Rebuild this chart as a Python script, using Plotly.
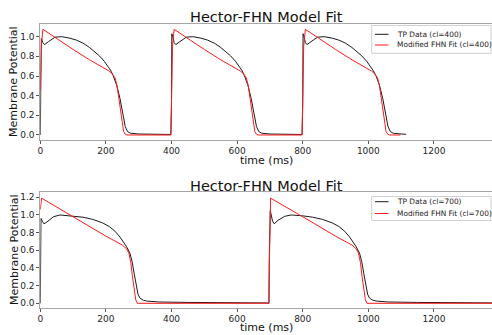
import plotly.graph_objects as go

W, H = 492, 335

# ---------------- data ----------------
# Top panel, cycle length 400 ms
t_tp400 = [0, 1, 3, 8, 13, 25, 45, 65, 90, 110, 130, 150, 165, 180, 195, 205, 214, 222, 233, 243, 251, 259, 266, 275, 300, 350, 398,
           400, 401, 404, 408, 413, 425, 445, 465, 490, 510, 530, 550, 565, 580, 595, 605, 614, 622, 633, 643, 651, 659, 666, 675, 700, 750, 798,
           800, 801, 804, 808, 813, 825, 845, 865, 890, 910, 930, 950, 965, 980, 995, 1005, 1014, 1023, 1034, 1044, 1052, 1060, 1067, 1076, 1100, 1115]
v_tp400 = [0.0, 0.97, 0.98, 0.94, 0.92, 0.95, 0.995, 1.0, 0.985, 0.965, 0.935, 0.89, 0.85, 0.805, 0.75, 0.705, 0.66, 0.605, 0.505, 0.37, 0.22, 0.086, 0.035, 0.018, 0.01, 0.007, 0.005,
           0.3, 1.03, 1.0, 0.94, 0.92, 0.95, 0.995, 1.0, 0.985, 0.965, 0.935, 0.89, 0.85, 0.805, 0.75, 0.705, 0.66, 0.605, 0.505, 0.37, 0.22, 0.086, 0.035, 0.018, 0.01, 0.007, 0.005,
           0.3, 1.03, 1.0, 0.94, 0.92, 0.95, 0.995, 1.0, 0.985, 0.965, 0.935, 0.89, 0.85, 0.805, 0.75, 0.705, 0.66, 0.605, 0.505, 0.37, 0.22, 0.086, 0.035, 0.018, 0.01, 0.007]

t_fhn400 = [0, 3, 8, 50, 100, 150, 200, 210, 220, 228, 234, 239, 244, 249, 254, 259, 264, 398,
            400, 403, 408, 450, 500, 550, 600, 610, 620, 628, 634, 639, 644, 649, 654, 659, 664, 798,
            800, 803, 808, 850, 900, 950, 1000, 1010, 1020, 1028, 1034, 1039, 1044, 1049, 1054, 1059, 1064, 1098]
v_fhn400 = [0.45, 0.9, 1.075, 0.98, 0.87, 0.765, 0.67, 0.65, 0.62, 0.58, 0.5, 0.38, 0.24, 0.11, 0.035, 0.008, 0.0, 0.0,
            0.3, 0.9, 1.075, 0.98, 0.87, 0.765, 0.67, 0.65, 0.62, 0.58, 0.5, 0.38, 0.24, 0.11, 0.035, 0.008, 0.0, 0.0,
            0.3, 0.9, 1.075, 0.98, 0.87, 0.765, 0.67, 0.65, 0.62, 0.58, 0.5, 0.38, 0.24, 0.11, 0.035, 0.008, 0.0, 0.0]

# Bottom panel, cycle length 700 ms
t_tp700 = [0, 2, 6, 11, 20, 40, 60, 100, 130, 160, 190, 210, 228, 243, 255, 263, 273, 280, 286, 292, 298, 304, 314, 324, 360, 450, 600, 697,
           698, 701, 704, 708, 713, 725, 745, 765, 800, 830, 860, 890, 910, 928, 943, 955, 963, 973, 980, 986, 992, 998, 1004, 1014, 1024, 1060, 1150, 1250, 1400]
v_tp700 = [0.0, 0.96, 0.93, 0.90, 0.92, 0.98, 1.0, 0.99, 0.975, 0.95, 0.91, 0.87, 0.815, 0.75, 0.69, 0.64, 0.57, 0.47, 0.34, 0.2, 0.1, 0.057, 0.035, 0.026, 0.015, 0.01, 0.006, 0.004,
           0.5, 1.05, 1.0, 0.93, 0.90, 0.94, 0.985, 1.0, 0.99, 0.975, 0.95, 0.91, 0.87, 0.815, 0.75, 0.69, 0.64, 0.57, 0.47, 0.34, 0.2, 0.1, 0.057, 0.035, 0.026, 0.015, 0.01, 0.006, 0.004]

t_fhn700 = [0, 4, 100, 200, 250, 262, 270, 276, 281, 286, 291, 296, 697,
            699, 702, 800, 900, 950, 962, 970, 976, 981, 986, 991, 996, 1400]
v_fhn700 = [1.06, 1.19, 0.98, 0.76, 0.66, 0.62, 0.57, 0.46, 0.3, 0.14, 0.04, 0.0, 0.0,
            0.6, 1.19, 0.98, 0.76, 0.66, 0.62, 0.57, 0.46, 0.3, 0.14, 0.04, 0.0, 0.0]

x_ticks = [0, 200, 400, 600, 800, 1000, 1200]
y_ticks_top = [0.0, 0.2, 0.4, 0.6, 0.8, 1.0]
y_ticks_bot = [0.0, 0.2, 0.4, 0.6, 0.8, 1.0, 1.2]

title_text = "Hector-FHN Model Fit"
legend_top = ["TP Data (cl=400)", "Modified FHN Fit (cl=400)"]
legend_bot = ["TP Data (cl=700)", "Modified FHN Fit (cl=700)"]

# ---------------- layout helpers (pixel -> paper) ----------------
def fx(x):
    return x / W

def fy(y):
    return 1 - y / H

FONT = "DejaVu Sans"
SPINE = "#a6a6a6"
BLACK = "#1a1a1a"
RED = "#ff1a1a"

ax_left, ax_right = 40.3, 492
top_y0, top_y1 = 24, 140
bot_y0, bot_y1 = 192, 308

fig = go.Figure()
fig.add_trace(go.Scatter(x=t_tp400, y=v_tp400, mode="lines", name=legend_top[0],
                         line=dict(color=BLACK, width=1), xaxis="x", yaxis="y"))
fig.add_trace(go.Scatter(x=t_fhn400, y=v_fhn400, mode="lines", name=legend_top[1],
                         line=dict(color=RED, width=1), xaxis="x", yaxis="y"))
fig.add_trace(go.Scatter(x=t_tp700, y=v_tp700, mode="lines", name=legend_bot[0],
                         line=dict(color=BLACK, width=1), xaxis="x2", yaxis="y2"))
fig.add_trace(go.Scatter(x=t_fhn700, y=v_fhn700, mode="lines", name=legend_bot[1],
                         line=dict(color=RED, width=1), xaxis="x2", yaxis="y2"))

xcommon = dict(range=[0, 1377], tickvals=x_ticks, ticktext=[str(v) for v in x_ticks],
               showgrid=False, zeroline=False, showline=True, linecolor=SPINE, linewidth=1,
               mirror=True, ticks="outside", ticklen=3, tickcolor="#555555", tickwidth=1,
               tickfont=dict(family=FONT, size=9, color="#262626"), automargin=False,
               ticklabelstandoff=-1,
               domain=[fx(ax_left), fx(ax_right)])
ycommon = dict(showgrid=False, zeroline=False, showline=True, linecolor=SPINE, linewidth=1,
               mirror=False, ticks="outside", ticklen=3, tickcolor="#555555", tickwidth=1,
               tickfont=dict(family=FONT, size=9, color="#262626"), automargin=False)

fig.update_layout(
    width=W, height=H,
    margin=dict(l=0, r=0, t=0, b=0),
    paper_bgcolor="white", plot_bgcolor="white",
    showlegend=False, hovermode=False,
    xaxis=dict(**xcommon, anchor="y"),
    yaxis=dict(**ycommon, range=[-0.051, 1.129], tickvals=y_ticks_top,
               ticktext=[f"{v:.1f}" for v in y_ticks_top], anchor="x",
               domain=[fy(top_y1), fy(top_y0)]),
    xaxis2=dict(**xcommon, anchor="y2"),
    yaxis2=dict(**ycommon, range=[-0.053, 1.26], tickvals=y_ticks_bot,
                ticktext=[f"{v:.1f}" for v in y_ticks_bot], anchor="x2",
                domain=[fy(bot_y1), fy(bot_y0)]),
)

annotations = []
shapes = []
cx = fx((ax_left + ax_right) / 2)
for ytitle, yxlab, yc in [(16.5, 160.5, (top_y0 + top_y1) / 2), (185.5, 327.8, (bot_y0 + bot_y1) / 2)]:
    annotations.append(dict(text=title_text, x=cx, y=fy(ytitle), xref="paper", yref="paper",
                            xanchor="center", yanchor="middle", showarrow=False,
                            font=dict(family=FONT, size=14.5, color="#111111")))
    annotations.append(dict(text="time (ms)", x=cx, y=fy(yxlab), xref="paper", yref="paper",
                            xanchor="center", yanchor="middle", showarrow=False,
                            font=dict(family=FONT, size=11, color="#111111")))
    annotations.append(dict(text="Membrane Potential", x=fx(14), y=fy(yc), xref="paper", yref="paper",
                            xanchor="center", yanchor="middle", showarrow=False, textangle=-90,
                            font=dict(family=FONT, size=11, color="#111111")))

# legends drawn manually (compact matplotlib-style)
for (bx0, by0, bx1, by1), labels, rows in [
    ((371.7, 25.5, 491, 53.3), legend_top, (34.3, 45.0)),
    ((371.7, 196.5, 491, 220.5), legend_bot, (201.7, 213.5)),
]:
    shapes.append(dict(type="rect", xref="paper", yref="paper", x0=fx(bx0), x1=fx(bx1),
                       y0=fy(by1), y1=fy(by0), line=dict(color="#d0d0d0", width=1),
                       fillcolor="rgba(255,255,255,0.8)", layer="above"))
    for lab, col, ry in zip(labels, [BLACK, RED], rows):
        shapes.append(dict(type="line", xref="paper", yref="paper", x0=fx(375), x1=fx(388.5),
                           y0=fy(ry), y1=fy(ry), line=dict(color=col, width=1), layer="above"))
        annotations.append(dict(text=lab, x=fx(395), y=fy(ry), xref="paper", yref="paper",
                                xanchor="left", yanchor="middle", showarrow=False,
                                font=dict(family=FONT, size=7.4, color="#222222")))

fig.update_layout(annotations=annotations, shapes=shapes)
fig.write_html("out.html", config={"displayModeBar": False, "staticPlot": True})

# remove the default page margin so the figure sits at the window origin
with open("out.html", "r", encoding="utf-8") as f:
    html = f.read()
html = html.replace("<head>", "<head><style>html,body{margin:0;padding:0;overflow:hidden;}</style>", 1)
with open("out.html", "w", encoding="utf-8") as f:
    f.write(html)
